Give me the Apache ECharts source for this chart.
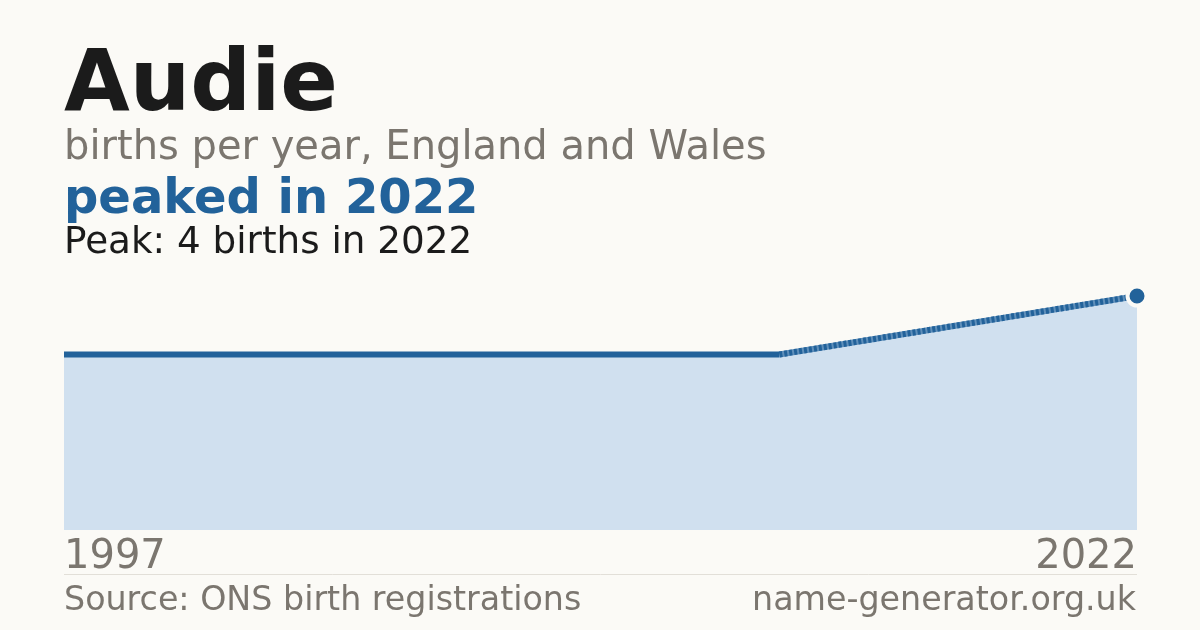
<!DOCTYPE html>
<html lang="en">
<head>
    <meta charset="UTF-8">
    <title>Audie</title>
    <script src="https://cdn.jsdelivr.net/npm/echarts@6/dist/echarts.min.js"></script>
    <style>
        html, body { margin: 0; padding: 0; background: #fbfaf6; }
    </style>
</head>
<body>
<div id="main" style="width: 1200px;height:630px;"></div>
<script type="text/javascript">
    // data
    var years = ['1997', '1998', '1999', '2022'];
    var births = [3, 3, 3, 4];
    var solidPart = [3, 3, 3, null];
    var gapPart = [null, null, 3, 4];
    var peakPoint = [null, null, null, 4];
    var axisTicks = ['1997', '2022'];

    var blue = '#22629a';
    var grey = '#7b766f';
    var font = 'DejaVu Sans';

    var myChart = echarts.init(document.getElementById('main'));

    function txt(x, y, text, size, color, weight, align) {
        return {
            type: 'text', x: x, y: y, silent: true,
            style: {
                text: text, fontSize: size, fontFamily: font,
                fontWeight: weight || 'normal', fill: color,
                align: align || 'left', verticalAlign: 'middle'
            }
        };
    }

    myChart.setOption({
        backgroundColor: '#fbfaf6',
        animation: false,
        grid: { left: 64, right: 63, top: 296, bottom: 100 },
        xAxis: {
            type: 'category',
            data: years,
            boundaryGap: false,
            axisLine: { show: false },
            axisTick: { show: false },
            axisLabel: {
                interval: 0,
                margin: 8,
                fontSize: 40,
                fontFamily: font,
                color: grey,
                alignMinLabel: 'left',
                alignMaxLabel: 'right',
                formatter: function (v) {
                    return axisTicks.indexOf(v) >= 0 ? v : '';
                }
            }
        },
        yAxis: {
            type: 'value', min: 0, max: 4,
            show: false,
            splitLine: { show: false }
        },
        series: [{
            type: 'line',
            data: births,
            symbol: 'none',
            lineStyle: { width: 0 },
            areaStyle: { color: '#d0e0ef', opacity: 1 },
            z: 1
        }, {
            type: 'line',
            data: solidPart,
            symbol: 'none',
            lineStyle: { width: 6, color: blue, cap: 'butt' },
            z: 2
        }, {
            // lighter base under the dashed gap segment
            type: 'line',
            data: gapPart,
            symbol: 'none',
            lineStyle: { width: 6, color: '#5f8fba', cap: 'butt' },
            z: 2
        }, {
            type: 'line',
            data: gapPart,
            symbol: 'none',
            lineStyle: { width: 6, color: blue, type: [3, 2], cap: 'butt' },
            z: 2
        }, {
            type: 'line',
            data: peakPoint,
            symbol: 'circle',
            symbolSize: 19,
            showSymbol: true,
            lineStyle: { width: 0 },
            itemStyle: { color: blue, borderColor: '#fbfaf6', borderWidth: 4 },
            z: 3
        }],
        graphic: [
            txt(64, 88, 'Audie', 85, '#1b1b1b', 'bold'),
            txt(64, 149, 'births per year, England and Wales', 40, grey),
            txt(64, 201, 'peaked in 2022', 48, blue, 'bold'),
            txt(64, 243, 'Peak: 4 births in 2022', 37.3, '#1b1b1b'),
            {
                type: 'line', silent: true,
                shape: { x1: 64, y1: 574.5, x2: 1137, y2: 574.5 },
                style: { stroke: '#e2dfd8', lineWidth: 1 }
            },
            txt(64, 601, 'Source: ONS birth registrations', 33.3, grey),
            txt(1136, 601, 'name-generator.org.uk', 33.3, grey, 'normal', 'right')
        ]
    });
</script>
</body>
</html>
